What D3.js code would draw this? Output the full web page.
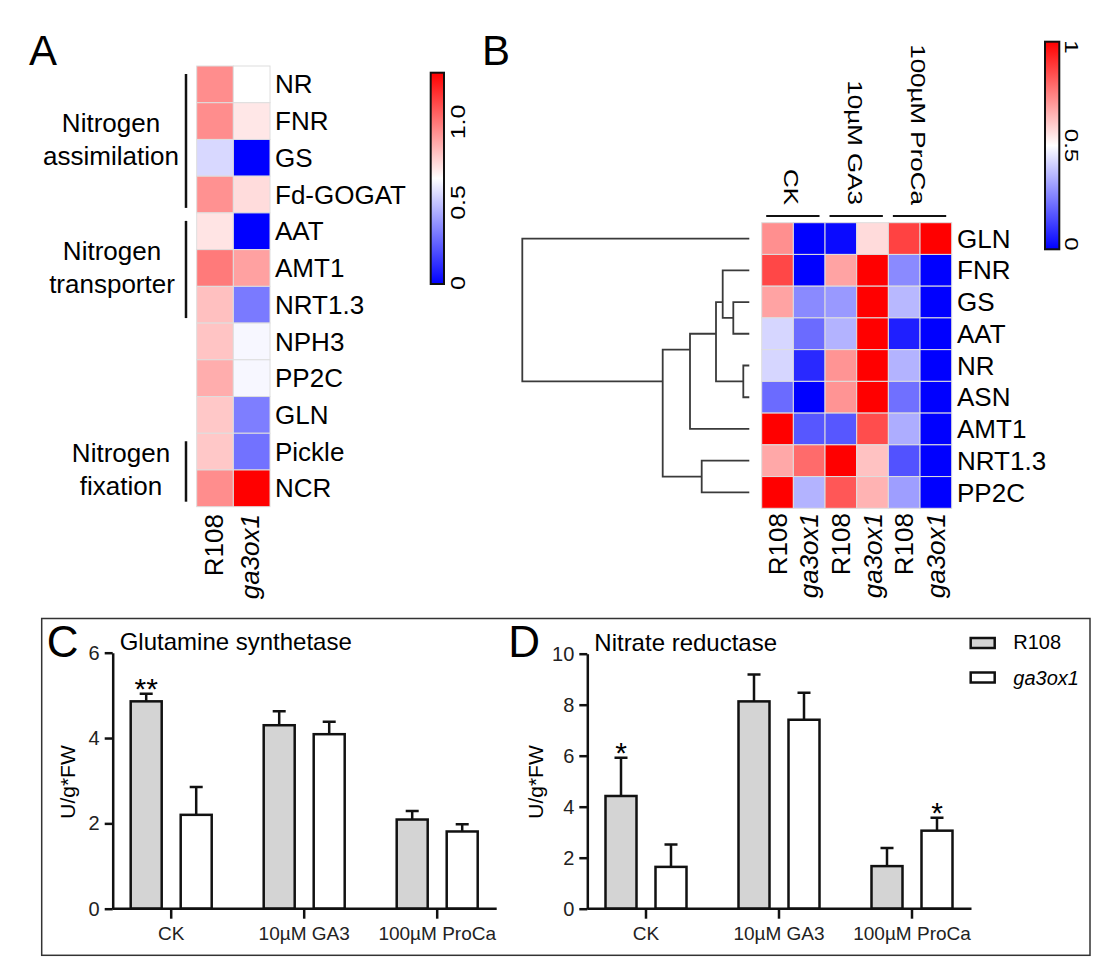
<!DOCTYPE html>
<html>
<head>
<meta charset="utf-8">
<script src="https://cdn.jsdelivr.net/npm/d3@7/dist/d3.min.js"></script>
<style>
  body { margin: 0; background: #fff; }
  svg { font-family: "Liberation Sans", Arial, Helvetica, sans-serif; }
</style>
</head>
<body>
<div id="js-figure"></div>
<script>
// ---- panel A data (relative expression, scale 0 - 1.3)
const genesA = ['NR', 'FNR', 'GS', 'Fd-GOGAT', 'AAT', 'AMT1', 'NRT1.3', 'NPH3', 'PP2C', 'GLN', 'Pickle', 'NCR'];
const r108A = [0.94, 0.94, 0.55, 0.93, 0.72, 0.99, 0.81, 0.80, 0.86, 0.79, 0.79, 0.94];
const ga3ox1A = [0.65, 0.71, 0.0, 0.74, 0.0, 0.89, 0.31, 0.63, 0.63, 0.32, 0.29, 1.3];
const groupsA = [
  { lines: ['Nitrogen', 'assimilation'], from: 'NR', to: 'Fd-GOGAT' },
  { lines: ['Nitrogen', 'transporter'], from: 'AAT', to: 'NRT1.3' },
  { lines: ['Nitrogen', 'fixation'], from: 'Pickle', to: 'NCR' }
];
const legendTicksA = [0, 0.5, 1.0];

// ---- panel B data (scaled 0 - 1, rows in dendrogram order)
const genesB = ['GLN', 'FNR', 'GS', 'AAT', 'NR', 'ASN', 'AMT1', 'NRT1.3', 'PP2C'];
const treatments = ['CK', '10µM GA3', '100µM ProCa'];
const genotypes = ['R108', 'ga3ox1'];
const ckR108 = [0.72, 0.86, 0.68, 0.42, 0.42, 0.21, 1.0, 0.67, 1.0];
const ckGa3ox1 = [0.0, 0.0, 0.27, 0.21, 0.08, 0.0, 0.17, 0.79, 0.35];
const ga3R108 = [0.02, 0.68, 0.30, 0.35, 0.71, 0.71, 0.17, 1.0, 0.83];
const ga3Ga3ox1 = [0.57, 1.0, 1.0, 1.0, 1.0, 1.0, 0.85, 0.62, 0.65];
const procaR108 = [0.87, 0.27, 0.36, 0.06, 0.35, 0.22, 0.34, 0.16, 0.31];
const procaGa3ox1 = [1.0, 0.0, 0.0, 0.0, 0.0, 0.0, 0.0, 0.0, 0.0];
const legendTicksB = [0, 0.5, 1];
// row clustering (merge heights)
const treeB = { h: 2.27, children: [
  { name: 'GLN' },
  { h: 0.866, children: [
    { h: 0.593, children: [
      { h: 0.333, children: [
        { h: 0.266, children: [{ name: 'FNR' }, { h: 0.16, children: [{ name: 'GS' }, { name: 'AAT' }] }] },
        { h: 0.06, children: [{ name: 'NR' }, { name: 'ASN' }] }
      ] },
      { name: 'AMT1' }
    ] },
    { h: 0.476, children: [{ name: 'NRT1.3' }, { name: 'PP2C' }] }
  ] }
] };

// ---- panel C / D data (U/g*FW)
const gsR108 = [4.86, 4.30, 2.09];
const gsR108Err = [0.18, 0.33, 0.20];
const gsGa3ox1 = [2.20, 4.09, 1.81];
const gsGa3ox1Err = [0.65, 0.29, 0.17];
const gsStars = [['**', ''], ['', ''], ['', '']];
const nrR108 = [4.42, 8.13, 1.67];
const nrR108Err = [1.50, 1.05, 0.71];
const nrGa3ox1 = [1.64, 7.41, 3.06];
const nrGa3ox1Err = [0.88, 1.06, 0.51];
const nrStars = [['*', ''], ['', ''], ['', '*']];
const ticksC = [0, 2, 4, 6];
const ticksD = [0, 2, 4, 6, 8, 10];

const svg = d3.select('#js-figure').append('svg')
  .attr('width', 1117).attr('height', 979);

const blueWhiteRed = ['#0000ff', '#ffffff', '#ff0000'];
const defs = svg.append('defs');

function gradient(id, color, domain) {
  const grad = defs.append('linearGradient').attr('id', id)
    .attr('x1', 0).attr('y1', 1).attr('x2', 0).attr('y2', 0);
  d3.range(0, 1.0001, 0.05).forEach(t => {
    grad.append('stop').attr('offset', t)
      .attr('stop-color', color(domain[0] + t * (domain[1] - domain[0])));
  });
}

// panel letters
svg.append('text').attr('x', 29).attr('y', 65).attr('font-size', 42).text('A');
svg.append('text').attr('x', 482).attr('y', 65).attr('font-size', 42).text('B');

// =============== Panel A heatmap
const colorA = d3.scaleLinear().domain([0, 0.65, 1.3]).range(blueWhiteRed);
const xA = d3.scaleBand().domain(genotypes).range([196.7, 270]);
const yA = d3.scaleBand().domain(genesA).range([66, 506.7]);
const gA = svg.append('g').attr('class', 'panel-a');

const cellsA = genesA.flatMap((g, i) => [
  { gene: g, col: 'R108', v: r108A[i] },
  { gene: g, col: 'ga3ox1', v: ga3ox1A[i] }
]);
gA.selectAll('.cell').data(cellsA).enter().append('rect')
  .attr('class', 'cell')
  .attr('x', d => xA(d.col)).attr('y', d => yA(d.gene))
  .attr('width', xA.bandwidth()).attr('height', yA.bandwidth())
  .attr('fill', d => colorA(d.v))
  .attr('stroke', '#dedede').attr('stroke-width', 1);

gA.selectAll('.row-label').data(genesA).enter().append('text')
  .attr('class', 'row-label')
  .attr('x', 275).attr('y', d => yA(d) + yA.bandwidth() / 2)
  .attr('dy', '0.35em').attr('font-size', 26)
  .text(d => d);

gA.selectAll('.col-label').data(genotypes).enter().append('text')
  .attr('class', 'col-label')
  .attr('transform', d => `translate(${xA(d) + xA.bandwidth() / 2},514) rotate(-90)`)
  .attr('dy', '0.3em').attr('text-anchor', 'end').attr('font-size', 26)
  .attr('font-style', d => d === 'ga3ox1' ? 'italic' : 'normal')
  .text(d => d);

// group brackets
const groupTextX = [111, 112, 121];
groupsA.forEach((grp, i) => {
  const top = yA(grp.from), bottom = yA(grp.to) + yA.bandwidth();
  const mid = (top + bottom) / 2;
  gA.append('line')
    .attr('x1', 186).attr('x2', 186)
    .attr('y1', top + 8).attr('y2', bottom - 5)
    .attr('stroke', '#111').attr('stroke-width', 2.5);
  grp.lines.forEach((t, j) => {
    gA.append('text')
      .attr('x', groupTextX[i]).attr('y', mid - 7.5 + j * 32.8)
      .attr('text-anchor', 'middle').attr('font-size', 26)
      .text(t);
  });
});

// legend A
gradient('gradA', colorA, [0, 1.3]);
const legA = d3.scaleLinear().domain([0, 1.0]).range([283, 122]);
gA.append('rect')
  .attr('x', 430.7).attr('y', 72.7).attr('width', 13.3).attr('height', 211.3)
  .attr('fill', 'url(#gradA)').attr('stroke', '#111').attr('stroke-width', 2);
gA.selectAll('.leg-label').data(legendTicksA).enter().append('text')
  .attr('class', 'leg-label')
  .attr('transform', d => `translate(465,${legA(d)}) rotate(-90) scale(1,0.8)`)
  .attr('text-anchor', 'middle').attr('font-size', 25)
  .text(d => d === 0 ? '0' : d.toFixed(1));

// =============== Panel B heatmap
const colorB = d3.scaleLinear().domain([0, 0.5, 1]).range(blueWhiteRed);
const samples = treatments.flatMap(t => genotypes.map(g => t + '|' + g));
const valuesB = [ckR108, ckGa3ox1, ga3R108, ga3Ga3ox1, procaR108, procaGa3ox1];
const xB = d3.scaleBand().domain(samples).range([761.7, 951.7]);
const yB = d3.scaleBand().domain(genesB).range([222.7, 508.3]);
const gB = svg.append('g').attr('class', 'panel-b');

const cellsB = genesB.flatMap((g, i) => samples.map((s, j) => ({ gene: g, s, v: valuesB[j][i] })));
gB.selectAll('.cell').data(cellsB).enter().append('rect')
  .attr('class', 'cell')
  .attr('x', d => xB(d.s)).attr('y', d => yB(d.gene))
  .attr('width', xB.bandwidth()).attr('height', yB.bandwidth())
  .attr('fill', d => colorB(d.v))
  .attr('stroke', '#dedede').attr('stroke-width', 1);

gB.selectAll('.row-label').data(genesB).enter().append('text')
  .attr('class', 'row-label')
  .attr('x', 957).attr('y', d => yB(d) + yB.bandwidth() / 2)
  .attr('dy', '0.35em').attr('font-size', 26)
  .text(d => d);

gB.selectAll('.col-label').data(samples).enter().append('text')
  .attr('class', 'col-label')
  .attr('transform', d => `translate(${xB(d) + xB.bandwidth() / 2},513) rotate(-90)`)
  .attr('dy', '0.35em').attr('text-anchor', 'end').attr('font-size', 26)
  .attr('font-style', d => d.endsWith('ga3ox1') ? 'italic' : 'normal')
  .text(d => d.split('|')[1]);

// treatment brackets + labels
treatments.forEach(t => {
  const x0 = xB(t + '|R108'), x1 = xB(t + '|ga3ox1') + xB.bandwidth();
  const cx = (x0 + x1) / 2;
  gB.append('line')
    .attr('x1', x0 + 4.5).attr('x2', x1 - 5.5)
    .attr('y1', 216).attr('y2', 216)
    .attr('stroke', '#111').attr('stroke-width', 2.2);
  gB.append('text')
    .attr('transform', `translate(${cx - 9},205) rotate(90) scale(1,0.78)`)
    .attr('text-anchor', 'end').attr('font-size', 26)
    .text(t);
});

// dendrogram
const root = d3.hierarchy(treeB);
const xD = d3.scaleLinear().domain([0, treeB.h]).range([749.3, 522.3]);
root.leaves().forEach(l => { l.yPos = yB(l.data.name) + yB.bandwidth() / 2; });
root.each(n => { if (n.children) n.yPos = d3.mean(n.leaves(), l => l.yPos); });
gB.selectAll('.link').data(root.descendants().filter(n => n.children)).enter().append('path')
  .attr('class', 'link')
  .attr('d', n => {
    const [a, b] = n.children;
    return `M${xD(a.data.h || 0)},${a.yPos}H${xD(n.data.h)}V${b.yPos}H${xD(b.data.h || 0)}`;
  })
  .attr('fill', 'none').attr('stroke', '#3a3a3a').attr('stroke-width', 1.8);

// legend B
gradient('gradB', colorB, [0, 1]);
const legB = d3.scaleLinear().domain([0, 1]).range([244, 47]);
gB.append('rect')
  .attr('x', 1045).attr('y', 41.7).attr('width', 14.3).attr('height', 207.6)
  .attr('fill', 'url(#gradB)').attr('stroke', '#111').attr('stroke-width', 2);
gB.selectAll('.leg-label').data(legendTicksB).enter().append('text')
  .attr('class', 'leg-label')
  .attr('transform', d => `translate(1065,${legB(d)}) rotate(90) scale(1,0.8)`)
  .attr('text-anchor', 'middle').attr('font-size', 24)
  .text(d => String(d));

// =============== Panels C and D (bar charts)
svg.append('rect')
  .attr('x', 41.7).attr('y', 618.5).attr('width', 1048.3).attr('height', 336.8)
  .attr('fill', 'none').attr('stroke', '#333').attr('stroke-width', 1.5);

function drawBars(cfg) {
  const g = svg.append('g');
  const y = d3.scaleLinear().domain([0, cfg.yMax]).range([908.7, cfg.yTop]);
  const x = d3.scaleBand().domain(treatments).range(cfg.xRange);
  const xs = d3.scaleBand().domain(genotypes).range([0, x.bandwidth()])
    .paddingInner(0.38).paddingOuter(0.52);

  const rows = treatments.flatMap((t, i) => [
    { t, s: 'R108', m: cfg.r108[i], e: cfg.r108Err[i], star: cfg.stars[i][0] },
    { t, s: 'ga3ox1', m: cfg.ga[i], e: cfg.gaErr[i], star: cfg.stars[i][1] }
  ]);
  const cx = d => x(d.t) + xs(d.s) + xs.bandwidth() / 2;

  // error bars
  g.selectAll('.err').data(rows).enter().append('path')
    .attr('class', 'err')
    .attr('d', d => `M${cx(d)},${y(d.m)}V${y(d.m + d.e)}M${cx(d) - 6.5},${y(d.m + d.e)}H${cx(d) + 6.5}`)
    .attr('stroke', '#111').attr('stroke-width', 2.5).attr('fill', 'none');

  g.selectAll('.bar').data(rows).enter().append('rect')
    .attr('class', 'bar')
    .attr('x', d => x(d.t) + xs(d.s)).attr('width', xs.bandwidth())
    .attr('y', d => y(d.m)).attr('height', d => y(0) - y(d.m))
    .attr('fill', d => d.s === 'R108' ? '#d4d4d4' : '#fff')
    .attr('stroke', '#111').attr('stroke-width', 2.5);

  g.selectAll('.star').data(rows.filter(d => d.star)).enter().append('text')
    .attr('class', 'star')
    .attr('x', cx).attr('y', d => y(d.m + d.e) + 5)
    .attr('text-anchor', 'middle').attr('font-size', 30)
    .text(d => d.star);

  // y axis
  const ya = g.append('g').attr('transform', `translate(${cfg.axisX},0)`)
    .call(d3.axisLeft(y).tickValues(cfg.ticks).tickFormat(d3.format('d'))
      .tickSize(8).tickSizeOuter(0).tickPadding(5));
  ya.selectAll('path, line').attr('stroke', '#111').attr('stroke-width', 2.5);
  ya.selectAll('text').attr('font-size', 20).attr('fill', '#222')
    .attr('font-family', '"Liberation Sans", Arial, sans-serif');

  // x axis
  g.append('line')
    .attr('x1', cfg.axisX).attr('x2', x.range()[1] - 7)
    .attr('y1', y(0)).attr('y2', y(0))
    .attr('stroke', '#111').attr('stroke-width', 2.5);
  const xa = g.append('g').attr('transform', `translate(0,${y(0)})`)
    .call(d3.axisBottom(x).tickSize(10).tickSizeOuter(0).tickPadding(8));
  xa.select('.domain').remove();
  xa.selectAll('line').attr('stroke', '#111').attr('stroke-width', 2.5);
  xa.selectAll('text').attr('font-size', 19).attr('fill', '#222')
    .attr('font-family', '"Liberation Sans", Arial, sans-serif');

  // titles
  g.append('text').attr('x', cfg.axisX + 7).attr('y', y(cfg.yMax) - 3)
    .attr('font-size', 24).text(cfg.title);
  g.append('text')
    .attr('transform', `translate(${cfg.labelX},782) rotate(-90)`)
    .attr('text-anchor', 'middle').attr('dy', '0.35em').attr('font-size', 21)
    .text('U/g*FW');
  g.append('text').attr('x', cfg.letterX).attr('y', 657)
    .attr('font-size', 44).text(cfg.letter);
}

drawBars({
  letter: 'C', letterX: 46.7, title: 'Glutamine synthetase',
  axisX: 112.7, labelX: 68, xRange: [104.7, 503.7],
  yMax: 6, yTop: 652.7, ticks: ticksC,
  r108: gsR108, r108Err: gsR108Err, ga: gsGa3ox1, gaErr: gsGa3ox1Err, stars: gsStars
});
drawBars({
  letter: 'D', letterX: 508.3, title: 'Nitrate reductase',
  axisX: 587.3, labelX: 536, xRange: [579.5, 978.5],
  yMax: 10, yTop: 653.7, ticks: ticksD,
  r108: nrR108, r108Err: nrR108Err, ga: nrGa3ox1, gaErr: nrGa3ox1Err, stars: nrStars
});

// legend for bars
const legBars = svg.append('g').attr('class', 'bar-legend');
genotypes.forEach((gt, i) => {
  legBars.append('rect')
    .attr('x', 970.7).attr('y', 638 + i * 34.5).attr('width', 24).attr('height', 10)
    .attr('fill', gt === 'R108' ? '#d4d4d4' : '#fff')
    .attr('stroke', '#111').attr('stroke-width', 2.5);
  legBars.append('text')
    .attr('x', 1013.3).attr('y', 648.5 + i * 36)
    .attr('font-size', 20)
    .attr('font-style', gt === 'ga3ox1' ? 'italic' : 'normal')
    .text(gt);
});
</script>
</body>
</html>
